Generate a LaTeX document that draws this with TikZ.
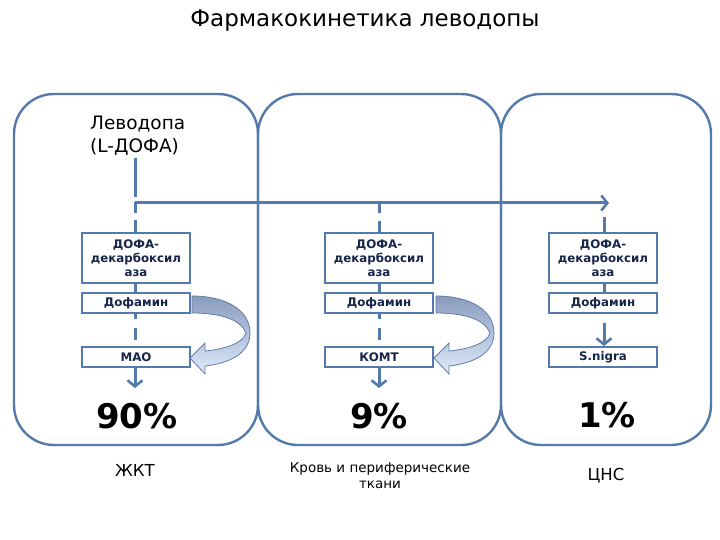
\documentclass[tikz,border=0pt]{standalone}
\usepackage{fontspec}
\setmainfont{DejaVu Sans}
\usetikzlibrary{arrows.meta}
\definecolor{pline}{RGB}{84,122,172}
\definecolor{navy}{RGB}{23,37,75}
\definecolor{arrdark}{RGB}{138,156,190}
\definecolor{arrlight}{RGB}{222,234,250}
\definecolor{arredge}{RGB}{95,125,170}
\tikzset{
  panel/.style={draw=pline, line width=2.4pt, rounded corners=40pt},
  conn/.style={draw=pline, line width=3pt},
  vtip/.style={-{Straight Barb[length=6pt,width=15pt,line width=2.6pt]}},
  enzbox/.style={draw=pline, line width=2pt, fill=white, minimum width=108pt, minimum height=50pt, inner sep=1pt,
    align=center, font=\fontsize{11.8}{14}\selectfont\bfseries, text=navy},
  smallbox/.style={draw=pline, line width=2pt, fill=white, minimum width=108pt, minimum height=20pt, inner sep=1pt,
    font=\fontsize{11.8}{13}\selectfont\bfseries, text=navy},
  pct/.style={font=\fontsize{34}{36}\selectfont\bfseries},
  lbl/.style={font=\fontsize{16.5}{19}\selectfont},
  curv/.style={top color=arrdark, bottom color=arrlight, draw=arredge, line width=0.8pt}
}
\begin{document}
\begin{tikzpicture}[x=1pt,y=-1pt]
\useasboundingbox (0,0) rectangle (720,540);
% title
\node (title) at (365,21) {\fontsize{23}{26}\selectfont Фармакокинетика леводопы};
% panels
\draw[panel] (14,94) rectangle (258,445);
\draw[panel] (258,94) rectangle (501,445);
\draw[panel] (501,94) rectangle (711,445);
% levodopa
\node[anchor=north west, align=left, inner sep=0pt, font=\fontsize{18.5}{23}\selectfont] (lev) at (90,116) {Леводопа\\(L-ДОФА)};
% boxes
\node[enzbox] (d1) at (136,258) {ДОФА-\\декарбоксил\\аза};
\node[enzbox] (d2) at (379,258) {ДОФА-\\декарбоксил\\аза};
\node[enzbox] (d3) at (603,258) {ДОФА-\\декарбоксил\\аза};
\node[smallbox] (f1) at (136,303) {Дофамин};
\node[smallbox] (f2) at (379,303) {Дофамин};
\node[smallbox] (f3) at (603,303) {Дофамин};
\node[smallbox] (m1) at (136,357) {МАО};
\node[smallbox] (m2) at (379,357) {КОМТ};
\node[smallbox] (m3) at (603,357) {S.nigra};
% coordinates
\coordinate (ls) at (135,158);
\coordinate (j) at (135,203);
\coordinate (hend) at (609,203);
\coordinate (j2) at (379,203);
\coordinate (j3) at (604,217);
\coordinate (e1) at (135,388);
\coordinate (e2) at (379,388);
% connectors
\draw[conn, dash pattern=on 39pt off 5pt on 11pt off 7pt on 40pt] (ls) -- (d1.north -| ls);
\draw[conn, vtip] (j) -- (hend);
\draw[conn, dash pattern=on 10pt off 8pt on 40pt] (j2) -- (d2.north -| j2);
\draw[conn] (j3) -- (d3.north -| j3);
\draw[conn] (d1.south -| ls) -- (f1.north -| ls);
\draw[conn] (d2.south -| j2) -- (f2.north -| j2);
\draw[conn] (d3.south -| j3) -- (f3.north -| j3);
\draw[conn, dash pattern=on 5pt off 9pt on 12pt off 40pt] (f1.south -| ls) -- (m1.north -| ls);
\draw[conn, dash pattern=on 5pt off 9pt on 12pt off 40pt] (f2.south -| j2) -- (m2.north -| j2);
\draw[conn, vtip, dash pattern=on 0pt off 9pt on 60pt] (f3.south -| j3) -- (m3.north -| j3);
\draw[conn, vtip] (m1.south -| ls) -- (e1);
\draw[conn, vtip] (m2.south -| j2) -- (e2);
% curved arrows
\foreach \dx in {0,244}{
\begin{scope}[xshift=\dx]
\shade[curv] (192,296) .. controls (226,296) and (250,310) .. (250,333)
  .. controls (250,352) and (232,363) .. (205,366)
  -- (205,374) -- (190,358) -- (205,343) -- (205,351)
  .. controls (226,349) and (243,343) .. (246,333)
  .. controls (241,320) and (222,313) .. (192,313) -- cycle;
\end{scope}
}
% percentages
\node[pct] (p1) at (137,416) {90\%};
\node[pct] (p2) at (379,416) {9\%};
\node[pct] (p3) at (607,415) {1\%};
% bottom labels
\node[lbl] (l1) at (135,470) {ЖКТ};
\node[align=center, font=\fontsize{13.5}{16}\selectfont] (l2) at (380,476) {Кровь и периферические\\ткани};
\node[lbl] (l3) at (606,476) {ЦНС};
\end{tikzpicture}
\end{document}
